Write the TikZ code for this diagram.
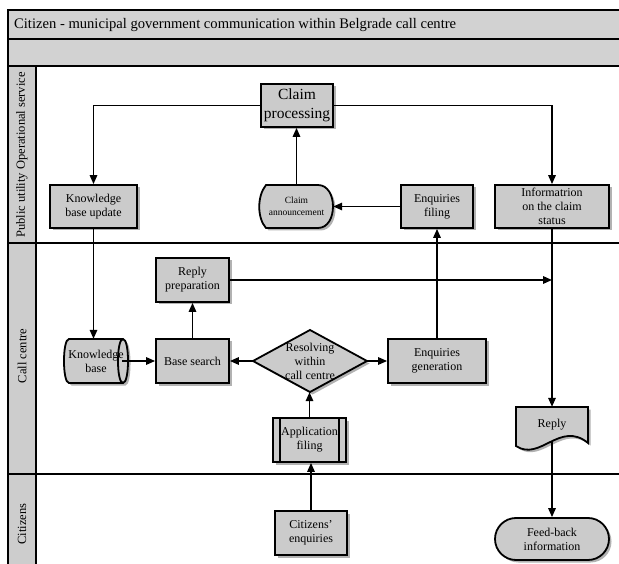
\documentclass[tikz,border=0pt]{standalone}
\usepackage{fontspec}
\setmainfont{Liberation Serif}
\usetikzlibrary{shadows,arrows.meta,shapes.misc}
\definecolor{nodegray}{HTML}{CBCBCB}
\definecolor{bandgray}{HTML}{D2D2D2}
\definecolor{colgray}{HTML}{CDCDCD}
\begin{document}
\begin{tikzpicture}[x=1pt,y=-1pt,
  shp/.style={draw=black, line width=1.8pt, fill=nodegray,
    drop shadow={shadow xshift=2.5pt, shadow yshift=-2.5pt, fill=black, opacity=0.3}},
  box/.style={shp, rectangle, inner sep=0pt, align=center, font=\fontsize{12}{14}\selectfont},
  txt/.style={rectangle, inner sep=0pt, align=center, font=\fontsize{12}{14}\selectfont},
  arr/.style={line width=1.6pt, -{Triangle[length=9pt,width=7.5pt]}},
  lane/.style={rotate=90, font=\fontsize{12.5}{15}\selectfont}
]
\useasboundingbox (0,0) rectangle (619,564);
% bands and frame
\fill[bandgray] (8,10) rectangle (619,66);
\fill[colgray] (8,66) rectangle (36,564);
\draw[line width=1.8pt] (619,10) -- (8,10) -- (8,564);
\draw[line width=1.8pt] (8,39) -- (619,39);
\draw[line width=2.8pt] (8,66) -- (619,66);
\draw[line width=1.8pt] (36,66) -- (36,564);
\draw[line width=2.2pt] (8,243) -- (619,243);
\draw[line width=2.2pt] (8,474) -- (619,474);
\node[anchor=base west, inner sep=0pt, font=\fontsize{14.6}{16}\selectfont] (title) at (14,29) {Citizen - municipal government communication within Belgrade call centre};
\node[lane] (l1) at (22,155) {Public utility Operational service};
\node[lane] (l2) at (22,356) {Call centre};
\node[lane] (l3) at (22,524) {Citizens};

% custom shapes
\path[shp] (266,185) -- (318,185) .. controls (338,185) and (338,228) .. (318,228) -- (266,228) .. controls (257,218) and (257,196) .. (266,185) -- cycle;
\path[shp] (69,339) -- (123,339) .. controls (129.7,339) and (129.7,383) .. (123,383) -- (69,383) .. controls (62.3,383) and (62.3,339) .. (69,339) -- cycle;
\draw[line width=1.8pt] (123,339) .. controls (116.3,339) and (116.3,383) .. (123,383);
\path[shp] (253,361) -- (310,330) -- (367,361) -- (310,392) -- cycle;
\path[shp] (516,407) -- (588,407) -- (588,443) .. controls (560,420) and (540,462) .. (516,446) -- cycle;

% nodes
\node[box, minimum width=72pt, minimum height=43pt, font=\fontsize{15.5}{19}\selectfont] (cp) at (297,105.5) {Claim\\processing};
\node[box, minimum width=87pt, minimum height=43pt] (kbu) at (93.5,206.5) {Knowledge\\base update};
\node[txt, minimum width=73pt, minimum height=43pt, font=\fontsize{9.5}{12}\selectfont] (ca) at (296.5,206.5) {Claim\\announcement};
\node[box, minimum width=72pt, minimum height=43pt] (ef) at (437,206.5) {Enquiries\\filing};
\node[box, minimum width=114pt, minimum height=43pt] (info) at (552,206.5) {Informatrion\\on the claim\\status};
\node[box, minimum width=73pt, minimum height=44pt] (rp) at (192.5,280) {Reply\\preparation};
\node[txt, minimum width=64pt, minimum height=44pt] (kb) at (96,361) {Knowledge\\base};
\node[box, minimum width=73pt, minimum height=44pt] (bs) at (192.5,361) {Base search};
\node[txt, minimum width=114pt, minimum height=62pt] (res) at (310,361) {Resolving\\within\\call centre};
\node[box, minimum width=98pt, minimum height=44pt] (eg) at (437,361) {Enquiries\\generation};
\node[box, minimum width=73pt, minimum height=44pt] (af) at (309.5,440) {Application\\filing};
\draw[line width=1.8pt] ([xshift=8pt]af.north west) -- ([xshift=8pt]af.south west);
\draw[line width=1.8pt] ([xshift=-8pt]af.north east) -- ([xshift=-8pt]af.south east);
\node[txt, minimum width=72pt, minimum height=35pt] (rep) at (552,424.5) {Reply};
\node[box, minimum width=72pt, minimum height=44pt] (ce) at (311,533) {Citizens'\\enquiries};
\node[box, rounded rectangle, minimum width=114pt, minimum height=42pt] (fb) at (552,539) {Feed-back\\information};

% connectors
\draw[arr] (cp.west) -| (kbu.north);
\draw[arr] (cp.east) -| (info.north);
\draw[arr] (ca.north) -- (ca.north |- cp.south);
\draw[arr] (ef.west) -- (ca.east);
\draw[arr] (kbu.south) -- (kbu.south |- kb.north);
\draw[arr] ([xshift=-6pt]kb.east) -- (bs.west);
\draw[arr] (res.west) -- (bs.east);
\draw[arr] (res.east) -- (eg.west);
\draw[arr] (bs.north) -- (rp.south);
\draw[arr] (af.north) -- (af.north |- res.south);
\draw[arr] (ce.north) -- (ce.north |- af.south);
\draw[arr] (eg.north) -- (ef.south);
\draw[arr] (info.south) -- (info.south |- rep.north);
\draw[arr] (rp.east) -- (rp.east -| info.south);
\draw[arr] (rep.south) -- (rep.south |- fb.north);
\end{tikzpicture}
\end{document}
